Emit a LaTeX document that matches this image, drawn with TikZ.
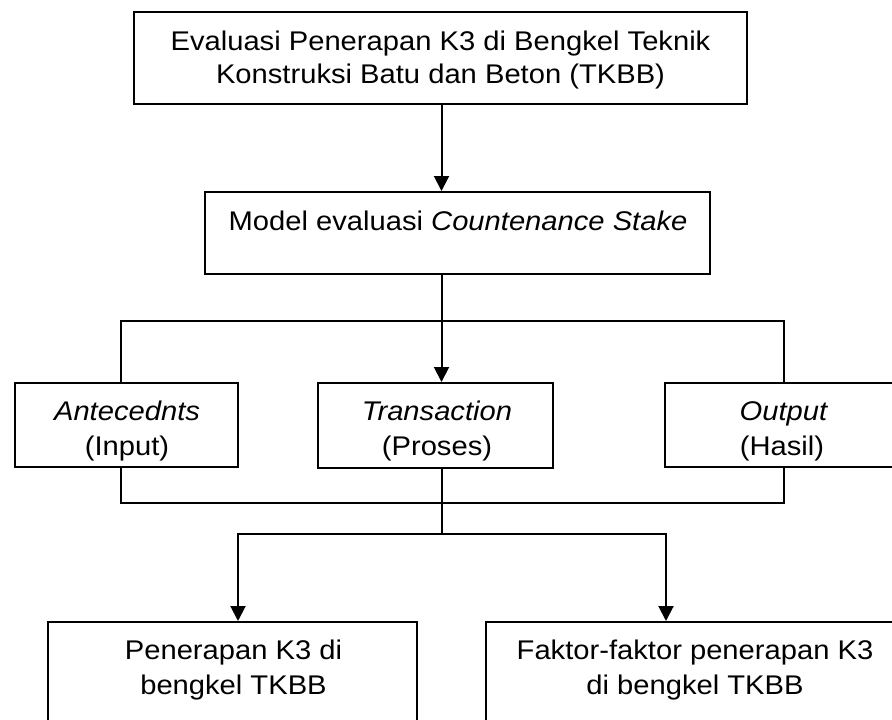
\documentclass[tikz,border=0pt]{standalone}
\usepackage{fontspec}
\setmainfont{Liberation Sans}[FakeStretch=1.08]
\usetikzlibrary{arrows.meta}
\tikzset{
  ln/.style={line width=2pt, draw=black},
  arr/.style={ln, -{Triangle[width=15pt,length=15pt]}},
  boxn/.style={ln, rectangle, inner sep=0pt},
  txt/.style={anchor=base, inner sep=0pt, font=\fontsize{27}{34}\selectfont}
}
\begin{document}
\begin{tikzpicture}[x=1pt, y=-1pt]
\useasboundingbox (0,0) rectangle (892,720);
\begin{scope}
\clip (0,0) rectangle (892,720);
% boxes
\node[boxn, minimum width=613pt, minimum height=92pt] (top) at (440.5,58) {};
\node[boxn, minimum width=505pt, minimum height=82pt] (model) at (457.5,233) {};
\node[boxn, minimum width=223pt, minimum height=84pt] (ant) at (126.5,425) {};
\node[boxn, minimum width=235pt, minimum height=85pt] (trans) at (435.5,425.5) {};
\node[boxn, minimum width=235pt, minimum height=84pt] (out) at (782.5,425) {};
\node[boxn, minimum width=369pt, minimum height=158pt] (pen) at (232.5,701) {};
\node[boxn, minimum width=418pt, minimum height=158pt] (fak) at (695,701) {};
% texts
\node[txt] (t1) at (440.5,50) {Evaluasi Penerapan K3 di Bengkel Teknik};
\node[txt] (t2) at (440.5,83) {Konstruksi Batu dan Beton (TKBB)};
\node[txt] (m1) at (458,230) {Model evaluasi \textit{Countenance Stake}};
\node[txt] (a1) at (127,420) {\textit{Antecednts}};
\node[txt] (a2) at (127,455) {(Input)};
\node[txt] (tr1) at (437,420) {\textit{Transaction}};
\node[txt] (tr2) at (437,455) {(Proses)};
\node[txt] (o1) at (784,420) {\textit{Output}};
\node[txt] (o2) at (782,455) {(Hasil)};
\node[txt] (p1) at (233.5,659) {Penerapan K3 di};
\node[txt] (p2) at (233.5,694) {bengkel TKBB};
\node[txt] (f1) at (695,659) {Faktor-faktor penerapan K3};
\node[txt] (f2) at (695,694) {di bengkel TKBB};
% helper coordinates
\coordinate (spine) at (441.5,0);
\coordinate (lx) at (121,0);
\coordinate (rx) at (784,0);
\coordinate (jt) at (441.5,321);
\coordinate (jb) at (441.5,503);
\coordinate (jc) at (441.5,534);
\coordinate (bl) at (238,0);
\coordinate (br) at (666,0);
% connectors
\draw[arr] (spine |- top.south) -- (spine |- model.north);
\draw[arr] (spine |- model.south) -- (spine |- trans.north);
\draw[ln] (lx |- ant.north) |- (jt) -| (rx |- out.north);
\draw[ln] (lx |- ant.south) |- (jb) -| (rx |- out.south);
\draw[ln] (spine |- trans.south) -- (jc);
\draw[arr] (jc) -| (bl |- pen.north);
\draw[arr] (jc) -| (br |- fak.north);
\end{scope}
\end{tikzpicture}
\end{document}
